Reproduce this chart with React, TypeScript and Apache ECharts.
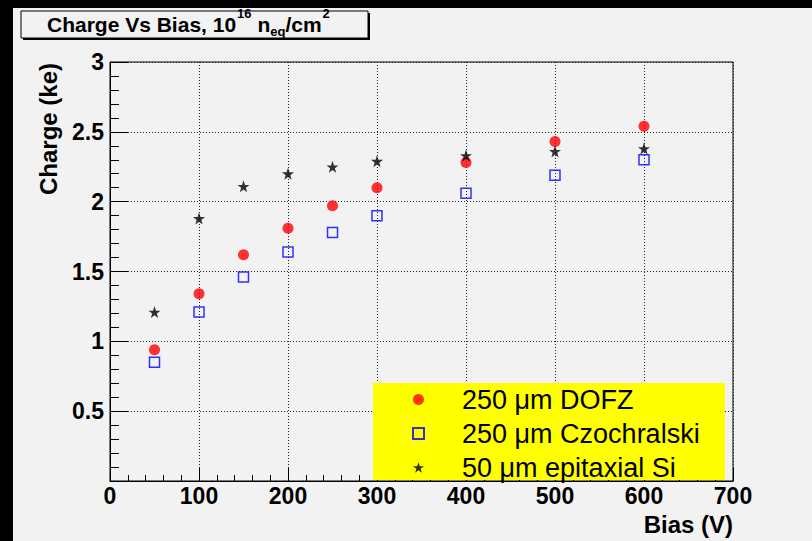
import React, { useEffect, useRef } from 'react';
import * as echarts from 'echarts';

// ---- data ----
const biasV = [50, 100, 150, 200, 250, 300, 400, 500, 600];
const dofzCharge = [0.94, 1.34, 1.62, 1.81, 1.97, 2.1, 2.28, 2.43, 2.54];
const czochralskiCharge = [0.85, 1.21, 1.46, 1.64, 1.78, 1.9, 2.06, 2.19, 2.3];
const epitaxialCharge = [1.21, 1.88, 2.11, 2.2, 2.25, 2.29, 2.33, 2.36, 2.38];
const seriesNames = ['250 μm DOFZ', '250 μm Czochralski', '50 μm epitaxial Si'];
const xAxisRange = [0, 700];
const yAxisRange = [0, 3];

const FONT = '"Liberation Sans", Arial, Helvetica, sans-serif';
const STAR =
  'path://M50,0 L61.8,35.1 L98.1,35.1 L68.7,56.7 L79.4,91 L50,70 L20.6,91 L31.3,56.7 L1.9,35.1 L38.2,35.1 Z';

const pairs = (ys: number[]) => biasV.map((x, i) => [x, ys[i]]);

export default function App() {
  const ref = useRef<HTMLDivElement>(null);
  useEffect(() => {
    const chart = echarts.init(ref.current!, null, { renderer: 'svg' });
    const base = { fontFamily: FONT, fontWeight: 'bold', color: '#000' };
    chart.setOption({
      animation: false,
      backgroundColor: '#f2f2f2',
      title: {
        text: '{m|Charge Vs Bias, 10}{sup|16}{m| n}{sub|eq}{m|/cm}{sup|2}',
        left: 47,
        top: 6,
        padding: 0,
        z: 3,
        textStyle: {
          fontFamily: FONT,
          fontWeight: 'bold',
          fontSize: 21,
          rich: {
            m: { ...base, fontSize: 21, lineHeight: 36, verticalAlign: 'middle' },
            sup: { ...base, fontSize: 13, lineHeight: 13, verticalAlign: 'top', padding: [1, 0, 0, 1] },
            sub: { ...base, fontSize: 13, lineHeight: 13, verticalAlign: 'bottom', padding: [0, 0, 4, 0] },
          },
        },
      },
      grid: {
        left: 110,
        top: 62,
        right: 79,
        bottom: 60,
        show: true,
        borderColor: '#000',
        borderWidth: 1,
        backgroundColor: 'transparent',
        containLabel: false,
        outerBoundsMode: 'none',
      },
      legend: {
        orient: 'vertical',
        left: 373,
        top: 383,
        padding: [3, 0, 0, 39],
        itemWidth: 11,
        itemHeight: 11,
        itemGap: 7,
        selectedMode: false,
        z: 4,
        data: seriesNames,
        textStyle: {
          fontFamily: FONT,
          fontSize: 27,
          color: '#000',
          lineHeight: 26,
          padding: [0, 0, 0, 33],
        },
      },
      xAxis: {
        type: 'value',
        min: xAxisRange[0],
        max: xAxisRange[1],
        interval: 100,
        name: 'Bias (V)',
        nameLocation: 'end',
        nameGap: 0,
        nameTextStyle: {
          ...base,
          fontSize: 24,
          align: 'right',
          verticalAlign: 'top',
          padding: [31, 0, 0, 0],
        },
        axisLine: { show: true, lineStyle: { color: '#000', width: 1 } },
        axisTick: { show: true, inside: true, length: 13, lineStyle: { color: '#000' } },
        minorTick: { show: true, splitNumber: 5, length: 6, lineStyle: { color: '#000' } },
        axisLabel: { ...base, fontSize: 23, margin: 3 },
        splitLine: { show: true, lineStyle: { color: '#222', width: 1, type: [1, 2] } },
      },
      yAxis: {
        type: 'value',
        min: yAxisRange[0],
        max: yAxisRange[1],
        interval: 0.5,
        name: 'Charge (ke)',
        nameLocation: 'end',
        nameRotate: 90,
        nameGap: -1,
        nameTextStyle: {
          ...base,
          fontSize: 24,
          align: 'right',
          verticalAlign: 'bottom',
          padding: [0, 0, 50, 0],
        },
        axisLine: { show: true, lineStyle: { color: '#000', width: 1 } },
        axisTick: { show: true, inside: true, length: 18, lineStyle: { color: '#000' } },
        minorTick: { show: true, splitNumber: 5, length: 9, lineStyle: { color: '#000' } },
        axisLabel: {
          ...base,
          fontSize: 23,
          margin: 6,
          formatter: (v: number) => (v === 0 ? '' : String(v)),
        },
        splitLine: { show: true, lineStyle: { color: '#222', width: 1, type: [1, 2] } },
      },
      graphic: [
        { type: 'rect', z: 1, shape: { x: 0, y: 0, width: 13, height: 541 }, style: { fill: '#000' } },
        { type: 'rect', z: 1, shape: { x: 0, y: 0, width: 812, height: 8 }, style: { fill: '#000' } },
        { type: 'rect', z: 1, shape: { x: 23, y: 13, width: 347, height: 27 }, style: { fill: '#000' } },
        { type: 'rect', z: 1, shape: { x: 21, y: 11, width: 347, height: 27 }, style: { fill: '#f2f2f2', stroke: '#000', lineWidth: 1 } },
        { type: 'rect', z: 1, shape: { x: 373, y: 383, width: 352, height: 97 }, style: { fill: '#ffff00' } },
      ],
      series: [
        {
          type: 'scatter',
          name: seriesNames[0],
          data: pairs(dofzCharge),
          symbol: 'circle',
          symbolSize: 11,
          itemStyle: { color: '#ff0000' },
          z: 3,
        },
        {
          type: 'scatter',
          name: seriesNames[1],
          data: pairs(czochralskiCharge),
          symbol: 'rect',
          symbolSize: 10,
          itemStyle: { color: 'transparent', borderColor: '#0000ff', borderWidth: 1.5 },
          z: 3,
        },
        {
          type: 'scatter',
          name: seriesNames[2],
          data: pairs(epitaxialCharge),
          symbol: STAR,
          symbolSize: 12,
          itemStyle: { color: '#000' },
          z: 3,
        },
      ],
    });
    return () => chart.dispose();
  }, []);
  return <div ref={ref} style={{ position: 'fixed', left: 0, top: 0, width: 812, height: 541 }} />;
}
